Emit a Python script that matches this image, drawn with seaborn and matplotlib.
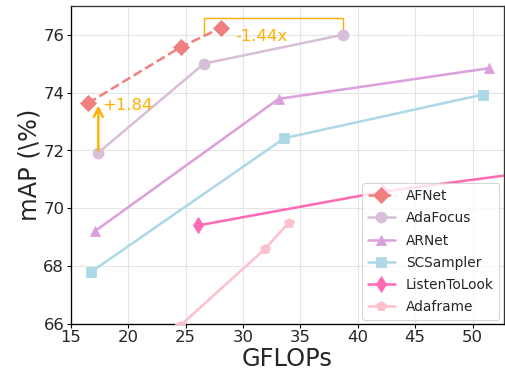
import matplotlib
matplotlib.use("Agg")
import matplotlib.pyplot as plt
import seaborn as sns
import pandas as pd

methods = ["AFNet", "AdaFocus", "ARNet", "SCSampler", "ListenToLook", "Adaframe"]
afnet_x = [16.5, 24.6, 28.1]
afnet_y = [73.63, 75.58, 76.24]
adafocus_x = [17.4, 26.6, 38.7]
adafocus_y = [71.92, 75.0, 76.0]
arnet_x = [17.1, 33.1, 51.4]
arnet_y = [69.2, 73.78, 74.84]
scsampler_x = [16.8, 33.6, 50.9]
scsampler_y = [67.8, 72.42, 73.93]
listen_x = [26.1, 42.2, 57.0]
listen_y = [69.4, 70.57, 71.35]
adaframe_x = [24.5, 31.9, 34.0]
adaframe_y = [65.92, 68.58, 69.5]

xs = [afnet_x, adafocus_x, arnet_x, scsampler_x, listen_x, adaframe_x]
ys = [afnet_y, adafocus_y, arnet_y, scsampler_y, listen_y, adaframe_y]
colors = ["#F08080", "#D8BFD8", "#DDA0DD", "#ADD8E6", "#FF69B4", "#FFC0CB"]
markers = ["D", "o", "^", "s", "d", "p"]
styles = ["--", "-", "-", "-", "-", "-"]

sns.set_theme(style="whitegrid")
plt.rcParams['font.family'] = ['DejaVu Sans']

fig = plt.figure(figsize=(6.4, 4.8), dpi=79)
ax = fig.add_axes([0.14, 0.146, 0.856, 0.838])

for name, x, y, c, m, ls in zip(methods, xs, ys, colors, markers, styles):
    df = pd.DataFrame({"GFLOPs": x, "mAP": y})
    sns.lineplot(data=df, x="GFLOPs", y="mAP", ax=ax, color=c, marker=m,
                 linestyle=ls, linewidth=2.3, markersize=10, markeredgecolor=c,
                 label=name, sort=False, zorder=3)

ac = "#FFB000"
# +1.84 arrow
ax.annotate("", xy=(adafocus_x[0], afnet_y[0]), xytext=(adafocus_x[0], adafocus_y[0]),
            arrowprops=dict(arrowstyle="->", color=ac, lw=2.2, mutation_scale=20), zorder=4)
ax.text(17.75, 73.55, "+1.84", color=ac, fontsize=15, va="center", ha="left")
# -1.44x bracket
ax.plot([adafocus_x[1], adafocus_x[1], adafocus_x[2], adafocus_x[2]],
        [76.0, 76.58, 76.58, 76.0], color=ac, lw=1.3, zorder=2)
ax.text(29.3, 75.95, "-1.44x", color=ac, fontsize=15, va="center", ha="left")

ax.set_xlim(15, 52.7)
ax.set_ylim(66, 77)
ax.set_xticks([15, 20, 25, 30, 35, 40, 45, 50])
ax.set_yticks([66, 68, 70, 72, 74, 76])
ax.tick_params(axis="both", labelsize=15, length=4, width=1, color="black", bottom=True, left=True, pad=2)
ax.set_xlabel("GFLOPs", fontsize=22, labelpad=1)
ax.set_ylabel("mAP (\\%)", fontsize=22, labelpad=2)
ax.grid(True, color="#E5E5E5", lw=1)
for s in ["left", "bottom"]:
    ax.spines[s].set_color("black")
    ax.spines[s].set_linewidth(1.2)
for s in ["top", "right"]:
    ax.spines[s].set_color("#333333")
    ax.spines[s].set_linewidth(1.2)

leg = ax.legend(loc="lower right", fontsize=12.5, frameon=True, framealpha=0.8,
                borderaxespad=0.3, handlelength=2.0, labelspacing=0.6)
leg.get_frame().set_edgecolor("#CCCCCC")

fig.savefig("out.png", dpi=79)
